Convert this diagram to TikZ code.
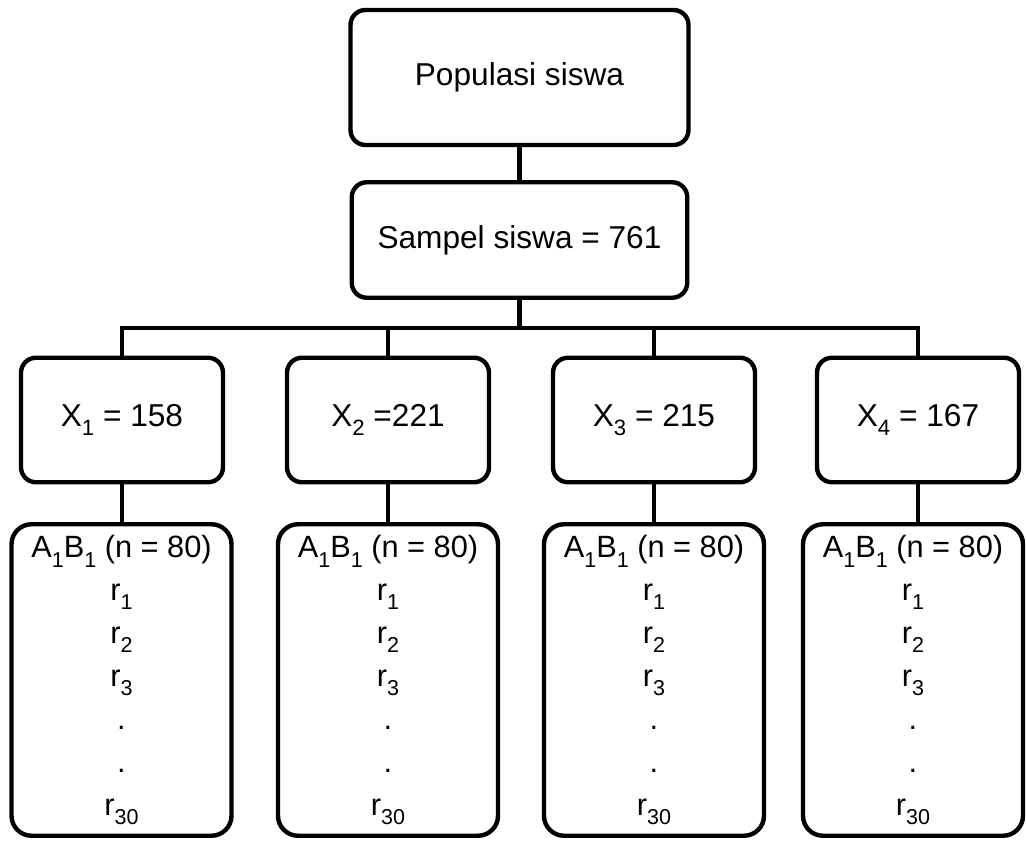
\documentclass[tikz,border=0pt]{standalone}
\usepackage{fontspec}
\setmainfont{Liberation Sans}
\usetikzlibrary{positioning}
\tikzset{
    kotak/.style={
        draw,
        line width=2.5pt,
        rounded corners=0.3cm,
        align=center,
        inner sep=2pt,
        font=\fontsize{18}{22}\selectfont
    },
    kelompok/.style={
        kotak,
        minimum width=4.04cm,
        minimum height=2.49cm
    },
    rincian/.style={
        kotak,
        minimum width=4.4cm,
        minimum height=6.23cm,
        rounded corners=0.4cm,
        font=\fontsize{17.5}{24.4}\selectfont
    },
    garis/.style={
        line width=2.5pt
    }
}
\newcommand{\bawah}[1]{\raisebox{-0.3em}{\scalebox{0.7}{#1}}}
\newcommand{\isirincian}{A\bawah{1}B\bawah{1} (n = 80)\\
    r\bawah{1}\\ r\bawah{2}\\ r\bawah{3}\\ .\\ .\\
    r\bawah{30}}

\begin{document}
\begin{tikzpicture}

    \useasboundingbox (0,0) rectangle (20.52,-16.84);

    % Populasi dan sampel
    \node[kotak, minimum width=6.76cm, minimum height=2.7cm]
        (pop) at (10.39,-1.55) {Populasi siswa};
    \node[kotak, minimum width=6.71cm, minimum height=2.31cm]
        (sampel) at (10.39,-4.8) {Sampel siswa = 761};
    \coordinate (bus) at (10.39,-6.56);

    % Kelompok X
    \node[kelompok] (x1) at (2.44,-8.4)  {X\bawah{1} = 158};
    \node[kelompok] (x2) at (7.76,-8.4)  {X\bawah{2} =221};
    \node[kelompok] (x3) at (13.08,-8.4) {X\bawah{3} = 215};
    \node[kelompok] (x4) at (18.36,-8.4) {X\bawah{4} = 167};

    % Rincian tiap kelompok
    \node[rincian] (r1) at (2.43,-13.6)  {\isirincian};
    \node[rincian] (r2) at (7.76,-13.6)  {\isirincian};
    \node[rincian] (r3) at (13.08,-13.6) {\isirincian};
    \node[rincian] (r4) at (18.26,-13.6) {\isirincian};

    % Garis penghubung
    \draw[garis] (pop) -- (sampel);
    \draw[garis] (sampel) -- (bus);
    \draw[garis] (x1.north) |- (bus) -| (x4.north);
    \draw[garis] (x2.north) -- (x2.north |- bus);
    \draw[garis] (x3.north) -- (x3.north |- bus);
    \draw[garis] (x1.south) -- (x1.south |- r1.north);
    \draw[garis] (x2.south) -- (x2.south |- r2.north);
    \draw[garis] (x3.south) -- (x3.south |- r3.north);
    \draw[garis] (x4.south) -- (x4.south |- r4.north);

\end{tikzpicture}
\end{document}
